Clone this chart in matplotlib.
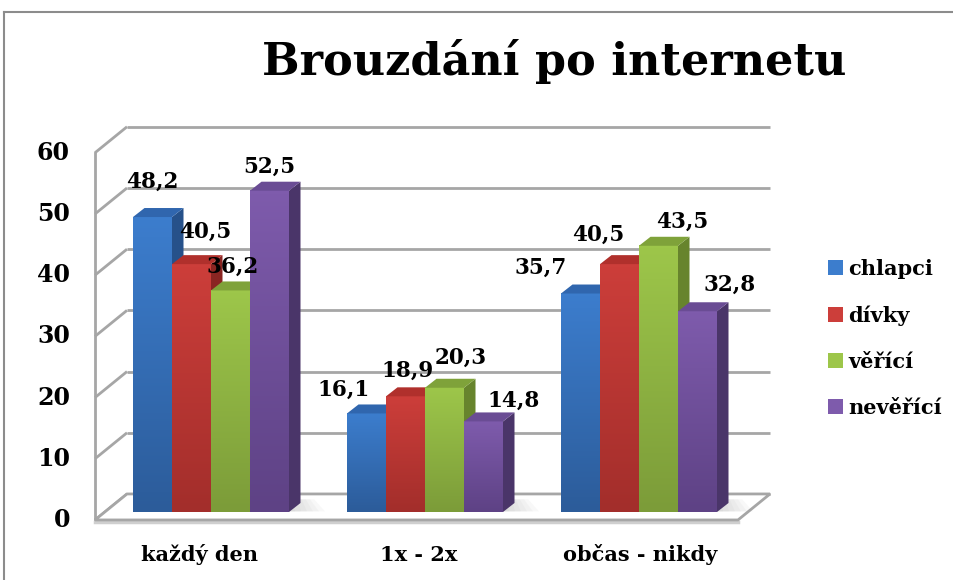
import matplotlib
matplotlib.use("Agg")
import matplotlib.pyplot as plt
import numpy as np
from matplotlib.patches import Polygon, Patch
from matplotlib.lines import Line2D
from matplotlib.colors import LinearSegmentedColormap

# ---- data ----
categories = ["každý den", "1x - 2x", "občas - nikdy"]
series_names = ["chlapci", "dívky", "věřící", "nevěřící"]
chlapci = [48.2, 16.1, 35.7]
divky = [40.5, 18.9, 40.5]
verici = [36.2, 20.3, 43.5]
neverici = [52.5, 14.8, 32.8]
series_values = [chlapci, divky, verici, neverici]
y_ticks = [0, 10, 20, 30, 40, 50, 60]
title = "Brouzdání po internetu"

# ---- style ----
front_top = ["#3C7DCD", "#CC3E3A", "#9DC64A", "#7E5BAC"]
front_bot = ["#2C5C9A", "#A32E2B", "#7C9C39", "#5E4285"]
side_col = ["#26518A", "#8A2522", "#67842D", "#4A3569"]
top_col = ["#3066AE", "#B0302C", "#7FA23A", "#6A4C94"]
grid_col = "#A6A6A6"
FONT = "DejaVu Serif"

# data-label placement (pixels: shift right from bar centre, height above bar top),
# indexed [series][category] -- labels were hand-placed in the original
label_dx_px = [[0, -23, -40], [14, 2, -21], [2, 16, 24], [0, 30, 32]]
label_dy_px = [[35, 23.5, 25.5], [32, 26, 29], [23.5, 30, 24], [24, 21, 26]]
cat_label_dx_px = [-11, -6, 1]

W, H = 954, 580
fig = plt.figure(figsize=(W / 100, H / 100), dpi=100)
fig.patch.set_facecolor("white")

PX_X = 214.0   # pixels per category unit
PX_Y = 6.12    # pixels per value unit
ax_left, ax_right = 95, 770
ax = fig.add_axes([ax_left / W, (H - 512) / H, (ax_right - ax_left) / W, 60 * PX_Y / H])
XLIM = ((ax_left - 211) / PX_X, (ax_right - 211) / PX_X)
ax.set_xlim(*XLIM)
ax.set_ylim(0, 60)
ax.axis("off")
ax.patch.set_visible(False)

# 3D geometry (data units)
front_dy = -1.3
wall_dx, wall_dy = 32 / PX_X, 26 / PX_Y
x_front = XLIM[0]
x_back = x_front + wall_dx
x_back_right = XLIM[1]
floor_front_right = x_back_right - wall_dx
bw = 39 / PX_X
bdx, bdy = 11.5 / PX_X, 9 / PX_Y

for v in y_ticks:
    yf = v + front_dy
    yb = yf + wall_dy
    ax.plot([x_front, x_back], [yf, yb], color=grid_col, lw=2, zorder=1, clip_on=False,
            solid_capstyle="butt")
    ax.plot([x_back, x_back_right], [yb, yb], color=grid_col, lw=2, zorder=1, clip_on=False,
            solid_capstyle="butt")
ax.plot([x_front, x_front], [front_dy, 60 + front_dy], color=grid_col, lw=2, zorder=1,
        clip_on=False)
floor = Polygon([(x_front, front_dy), (floor_front_right, front_dy),
                 (x_back_right, front_dy + wall_dy), (x_back, front_dy + wall_dy)],
                closed=True, facecolor="white", edgecolor=grid_col, lw=2, zorder=1.5,
                clip_on=False)
ax.add_patch(floor)
ax.plot([x_front, floor_front_right], [front_dy - 0.3, front_dy - 0.3], color="#CFCFCF",
        lw=2.5, zorder=1.4, clip_on=False)

for v in y_ticks:
    ax.text(x_front - 25 / PX_X, v + front_dy, str(v), ha="right", va="center",
            fontsize=17, fontweight="bold", family=FONT, clip_on=False)

n = len(series_names)
offsets = (np.arange(n) - (n - 1) / 2) * bw
z = 3
for ci in range(len(categories)):
    # soft shadow on the floor to the right of each group
    gx0 = ci + offsets[0] - bw / 2
    gx1 = ci + offsets[-1] + bw / 2
    for k in range(6):
        ext = (6 - k) * 6 / PX_X
        sh = Polygon([(gx0 + 10 / PX_X, 0.1), (gx1 + ext, 0.1), (gx1 + ext * 0.7, bdy + 0.6),
                      (gx1, bdy + 0.6)], closed=True, facecolor="#909090",
                     edgecolor="none", alpha=0.06, zorder=2)
        ax.add_patch(sh)
    for si in range(n):
        v = series_values[si][ci]
        x0 = ci + offsets[si] - bw / 2
        x1 = x0 + bw
        cmap = LinearSegmentedColormap.from_list("g", [front_bot[si], front_top[si]])
        grad = np.linspace(0, 1, 64).reshape(-1, 1)
        ax.imshow(grad, extent=(x0, x1, 0, v), origin="lower", cmap=cmap, aspect="auto",
                  zorder=z, interpolation="bilinear")
        ax.add_patch(Polygon([(x1, 0), (x1 + bdx, bdy), (x1 + bdx, v + bdy), (x1, v)],
                             closed=True, facecolor=side_col[si], edgecolor="none", zorder=z))
        ax.add_patch(Polygon([(x0, v), (x1, v), (x1 + bdx, v + bdy), (x0 + bdx, v + bdy)],
                             closed=True, facecolor=top_col[si], edgecolor="none", zorder=z))
        z += 0.1

for ci in range(len(categories)):
    for si in range(n):
        v = series_values[si][ci]
        lx = ci + offsets[si] + label_dx_px[si][ci] / PX_X
        ly = v + label_dy_px[si][ci] / PX_Y
        ax.text(lx, ly, f"{v:.1f}".replace(".", ","), ha="center", va="center",
                fontsize=15.5, fontweight="bold", family=FONT, zorder=20, clip_on=False)
    ax.text(ci + cat_label_dx_px[ci] / PX_X, -7.0, categories[ci], ha="center", va="center",
            fontsize=15, fontweight="bold", family=FONT, clip_on=False)

ax.set_xlim(*XLIM)
ax.set_ylim(0, 60)

fig.text(554 / W, 1 - 62 / H, title, ha="center", va="center", fontsize=32,
         fontweight="bold", family=FONT)

handles = [Patch(facecolor=front_top[i], edgecolor="none") for i in range(n)]
fig.legend(handles, series_names, loc="upper left", bbox_to_anchor=(828 / W, 1 - 259 / H),
           frameon=False, handlelength=0.72, handleheight=0.72, handletextpad=0.25,
           labelspacing=1.25, borderpad=0, borderaxespad=0,
           prop={"family": FONT, "weight": "bold", "size": 15})

fig.add_artist(Line2D([4 / W, 4 / W], [0, 1 - 12 / H], color="#8C8C8C", lw=1.5))
fig.add_artist(Line2D([4 / W, 1], [1 - 12 / H, 1 - 12 / H], color="#8C8C8C", lw=1.5))

fig.savefig("out.png", dpi=100)
